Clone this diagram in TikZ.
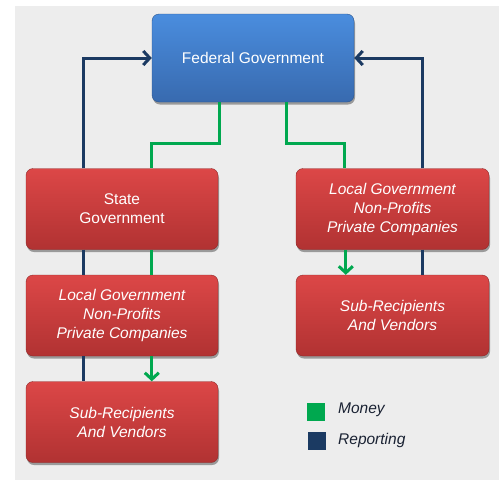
\documentclass[tikz,border=0pt]{standalone}
\usepackage{fontspec}
\setmainfont{Liberation Sans}
\usetikzlibrary{arrows.meta,shadows}
\definecolor{bg}{HTML}{EDEDED}
\definecolor{redtop}{HTML}{DC4747}
\definecolor{redbot}{HTML}{B13232}
\definecolor{bluetop}{HTML}{4A8DDE}
\definecolor{bluebot}{HTML}{386AAF}
\definecolor{navy}{HTML}{1B3A62}
\definecolor{moneygreen}{HTML}{00A84F}
\definecolor{legtxt}{HTML}{1A2233}
\tikzset{
  boxbase/.style={rounded corners=7pt, align=center, text=white,
    font=\fontsize{15.5}{19}\selectfont,
    drop shadow={shadow xshift=1pt, shadow yshift=-2.5pt, opacity=0.35, fill=black}},
  redbox/.style={boxbase, top color=redtop, bottom color=redbot, draw=redbot!80!black, line width=0.4pt,
    minimum width=192pt, minimum height=81pt, inner sep=0pt},
  bluebox/.style={boxbase, top color=bluetop, bottom color=bluebot, draw=bluebot!80!black, line width=0.4pt,
    minimum width=202pt, minimum height=88pt, inner sep=0pt},
  rep/.style={draw=navy, line width=3pt},
  money/.style={draw=moneygreen, line width=3pt},
  tip/.style={-{Straight Barb[length=6.5pt,width=14pt]}},
  legsq/.style={minimum width=18pt, minimum height=18pt, inner sep=0pt},
  legtext/.style={anchor=west, text=legtxt, font=\fontsize{15.5}{19}\selectfont\itshape, inner sep=0pt}
}
\begin{document}
\begin{tikzpicture}[x=1pt,y=-1pt]
\useasboundingbox (0,0) rectangle (499,483);
\fill[bg] (15,6) rectangle (499,480);

\node[bluebox] (fed) at (253,58) {Federal Government};
\node[redbox] (state) at (122,209) {State\\Government};
\node[redbox] (llocal) at (122,315.5) {\itshape Local Government\\\itshape Non-Profits\\\itshape Private Companies};
\node[redbox] (lsub) at (122,422) {\itshape Sub-Recipients\\\itshape And Vendors};
\node[redbox, minimum width=193pt] (rlocal) at (392.5,209) {\itshape Local Government\\\itshape Non-Profits\\\itshape Private Companies};
\node[redbox, minimum width=193pt] (rsub) at (392.5,315.5) {\itshape Sub-Recipients\\\itshape And Vendors};

% reporting to federal
\draw[rep, tip] ([xshift=58pt]state.north west) |- (fed.west);
\draw[rep, tip] ([xshift=127pt]rlocal.north west) |- (fed.east);
% money from federal
\draw[money] ([xshift=68pt]fed.south west) -- ++(0,41) -| ([xshift=126pt]state.north west);
\draw[money] ([xshift=135pt]fed.south west) -- ++(0,41) -| ([xshift=49pt]rlocal.north west);

% left column
\draw[rep] ([xshift=58pt]state.south west) -- ([xshift=58pt]llocal.north west);
\draw[money] ([xshift=126pt]state.south west) -- ([xshift=126pt]llocal.north west);
\draw[rep] ([xshift=58pt]llocal.south west) -- ([xshift=58pt]lsub.north west);
\draw[money, tip] ([xshift=126pt]llocal.south west) -- ([xshift=126pt]lsub.north west);

% right column
\draw[money, tip] ([xshift=50pt]rlocal.south west) -- ([xshift=50pt]rsub.north west);
\draw[rep] ([xshift=127pt]rlocal.south west) -- ([xshift=127pt]rsub.north west);

% legend
\node[legsq, fill=moneygreen] (lgm) at (316,411.5) {};
\node[legsq, fill=navy] (lgr) at (316.5,441) {};
\node[legtext] (lgmt) at (338,410) {Money};
\node[legtext] (lgrt) at (338,440) {Reporting};
\end{tikzpicture}
\end{document}
